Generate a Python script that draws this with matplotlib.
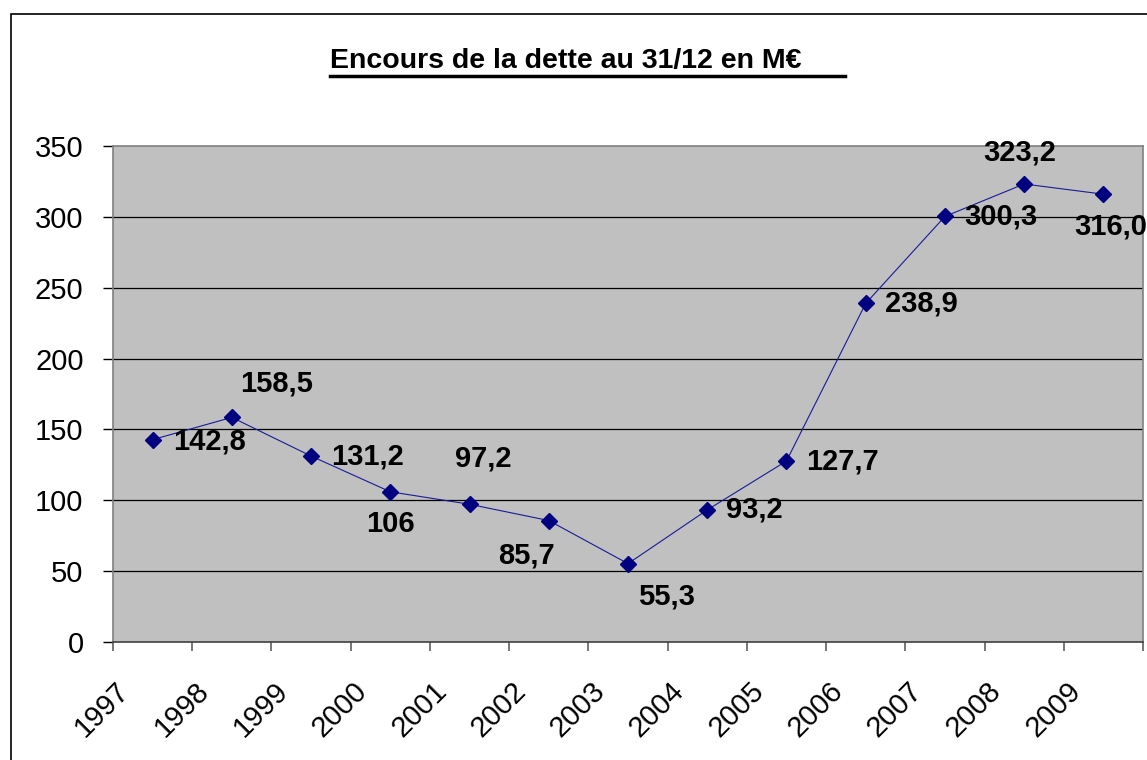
import matplotlib
matplotlib.use('Agg')
import matplotlib.pyplot as plt
from matplotlib.patches import Rectangle
from matplotlib.lines import Line2D

# data
years = ['1997', '1998', '1999', '2000', '2001', '2002', '2003',
         '2004', '2005', '2006', '2007', '2008', '2009']
debt = [142.8, 158.5, 131.2, 106.0, 97.2, 85.7, 55.3,
        93.2, 127.7, 238.9, 300.3, 323.2, 316.0]
debt_labels = ['142,8', '158,5', '131,2', '106', '97,2', '85,7', '55,3',
               '93,2', '127,7', '238,9', '300,3', '323,2', '316,0']
yticks = [0, 50, 100, 150, 200, 250, 300, 350]

# label placement (pixels from the marker), Excel put them all over the place
label_offsets = [(57, -2), (45, 34), (56, 0), (0, -32), (14, 46), (-22, -35),
                 (38, -33), (47, 0), (56, 0), (56, 0), (56, 0), (-4, 31), (7, -32)]

plt.rcParams['font.family'] = ['Liberation Sans', 'DejaVu Sans']

W, H = 1147, 760
fig = plt.figure(figsize=(W / 100, H / 100), dpi=100)
fig.patch.set_facecolor('white')

# outer chart frame (cut off on the right and bottom)
fig.add_artist(Rectangle((11 / W, -0.1), 2, (H - 14) / H + 0.1,
                         transform=fig.transFigure, fill=False,
                         ec='black', lw=1.2))

ax = fig.add_axes([113 / W, (H - 642) / H, (1143 - 113) / W, (642 - 146) / H])
ax.set_facecolor('#c0c0c0')

x = list(range(len(years)))
ax.plot(x, debt, color='#1a1a99', lw=0.8, zorder=3)
ax.plot(x, debt, ls='none', marker='D', markersize=8,
        markerfacecolor='#000080', markeredgecolor='#000080', zorder=3)

for i, (v, lab) in enumerate(zip(debt, debt_labels)):
    dx, dy = label_offsets[i]
    ax.annotate(lab, (i, v), xytext=(dx, dy), textcoords='offset pixels',
                ha='center', va='center', fontsize=21, fontweight='bold',
                color='black', annotation_clip=False, zorder=4)

ax.set_xlim(-0.5, len(years) - 0.5)
ax.set_ylim(0, 350)

ax.set_yticks(yticks)
ax.set_yticklabels([str(t) for t in yticks], fontsize=21)
ax.tick_params(axis='y', length=7.2, width=1, color='black', pad=14)
for t in yticks[1:-1]:
    ax.axhline(t, color='black', lw=0.9, zorder=1)

# category labels sit oddly left of their category, Excel style
ax.set_xticks([i - 0.22 for i in x])
ax.set_xticklabels(years, rotation=45, ha='right', fontsize=21)
ax.tick_params(axis='x', which='major', length=0, pad=25)
ax.set_xticks([i - 0.5 for i in range(len(years) + 1)], minor=True)
ax.tick_params(axis='x', which='minor', length=6.5, width=1.2, color='#606060')

for side in ['top', 'right', 'left']:
    ax.spines[side].set_color('#808080')
    ax.spines[side].set_linewidth(1.2)
ax.spines['bottom'].set_color('#404040')
ax.spines['bottom'].set_linewidth(1.2)

# underlined title, underline runs past the text
fig.text(330 / W, 1 - 61 / H, 'Encours de la dette au 31/12 en M€',
         ha='left', va='center', fontsize=20.5, fontweight='bold')
fig.add_artist(Line2D([330 / W, 845 / W], [1 - 75.5 / H, 1 - 75.5 / H],
                      transform=fig.transFigure, color='black', lw=2.5))

fig.savefig('out.png', dpi=100)
